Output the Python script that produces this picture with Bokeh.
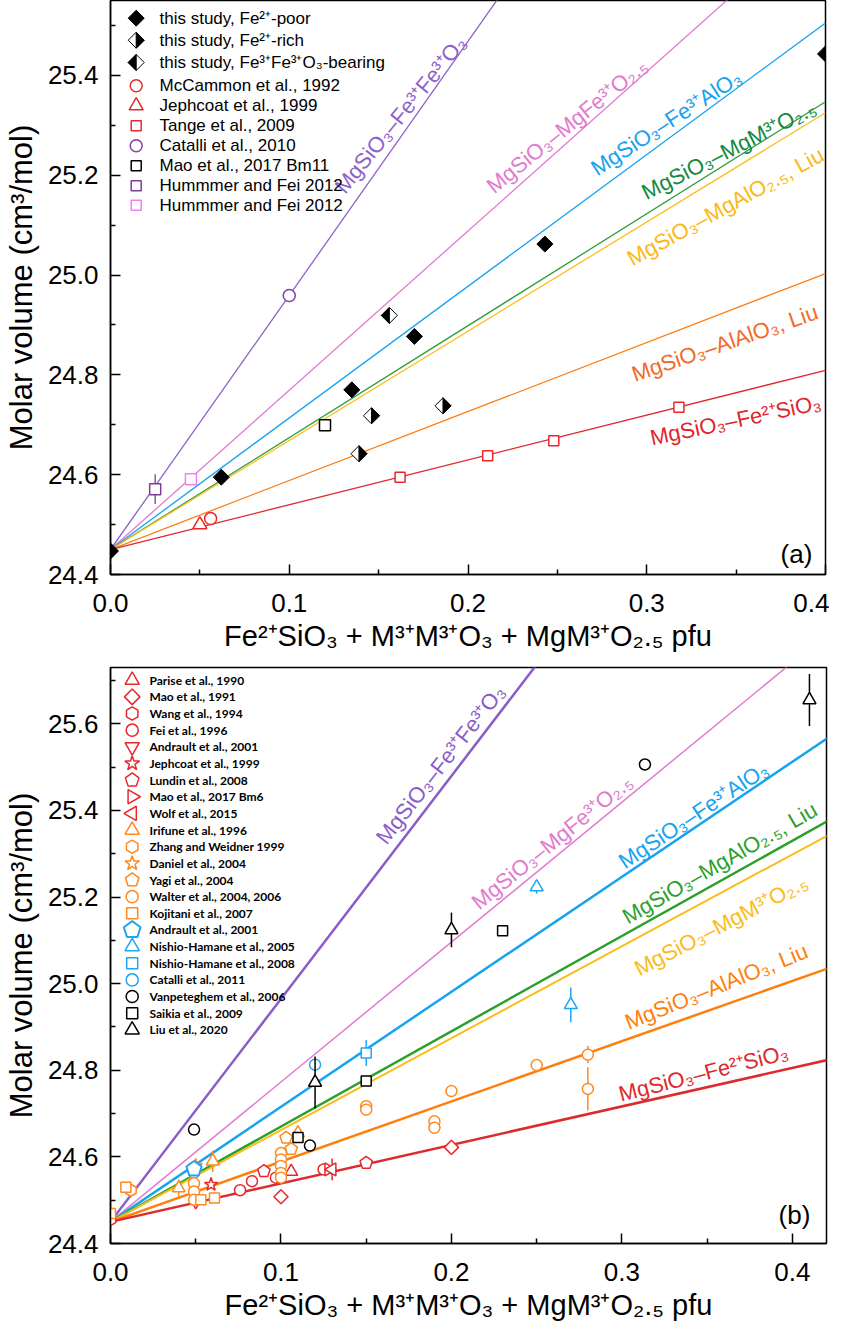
import math
from bokeh.plotting import figure
from bokeh.models import Range1d, FixedTicker, NumeralTickFormatter
from bokeh.layouts import column
from bokeh.embed import file_html
from bokeh.resources import INLINE
from bokeh.core.properties import value

# ---------------------------------------------------------------- panel (a) data
a_poor_x = [0.0, 0.062, 0.135, 0.170, 0.243, 0.400]
a_poor_y = [24.447, 24.595, 24.770, 24.877, 25.062, 25.443]
a_rich_x = [0.139, 0.146, 0.186]
a_rich_y = [24.642, 24.718, 24.738]
a_fe3_x = [0.156]
a_fe3_y = [24.919]
a_mccammon_x = [0.056]
a_mccammon_y = [24.512]
a_jephcoat_x = [0.050]
a_jephcoat_y = [24.500]
a_tange_x = [0.162, 0.211, 0.248, 0.318]
a_tange_y = [24.595, 24.638, 24.668, 24.735]
a_catalli_x = [0.100]
a_catalli_y = [24.959]
a_mao_x = [0.120]
a_mao_y = [24.699]
a_hum1_x = [0.025]
a_hum1_y = [24.571]
a_hum1_err = [0.03]
a_hum2_x = [0.045]
a_hum2_y = [24.591]

# trend lines (a): all start at (0, 24.45)
line_x0 = 0.0
line_y0 = 24.45
a_line_xend = [0.22, 0.35, 0.40, 0.40, 0.40, 0.40, 0.40]
a_line_yend = [25.570, 25.567, 25.505, 25.347, 25.325, 25.003, 24.809]
a_line_colors = ["#8f62c9", "#e27bce", "#15a2f0", "#2f9e3a", "#fdbf1e", "#ff8019", "#e0262d"]
a_text_colors = ["#8f62c9", "#e27bce", "#15a2f0", "#128a3e", "#fbb917", "#f26a2a", "#e0262d"]
a_labels = ["MgSiO₃–Fe³⁺Fe³⁺O₃", "MgSiO₃–MgFe³⁺O₂.₅", "MgSiO₃–Fe³⁺AlO₃",
            "MgSiO₃–MgM³⁺O₂.₅", "MgSiO₃–MgAlO₂.₅, Liu", "MgSiO₃–AlAlO₃, Liu",
            "MgSiO₃–Fe²⁺SiO₃"]
a_lab_x = [0.128, 0.212, 0.270, 0.298, 0.290, 0.292, 0.302]
a_lab_y = [25.170, 25.173, 25.210, 25.163, 25.030, 24.800, 24.673]
a_lab_ang = [51, 39, 33, 27, 29, 19, 12]

a_legend_labels = ["this study, Fe²⁺-poor", "this study, Fe²⁺-rich",
                   "this study, Fe³⁺Fe³⁺O₃-bearing", "McCammon et al., 1992",
                   "Jephcoat et al., 1999", "Tange et al., 2009", "Catalli et al., 2010",
                   "Mao et al., 2017 Bm11", "Hummmer and Fei 2012", "Hummmer and Fei 2012"]

# ---------------------------------------------------------------- panel (b) data
b_parise_x = [0.106]; b_parise_y = [24.566]
b_mao91_x = [0.100, 0.200]; b_mao91_y = [24.508, 24.622]
b_wang_x = [0.0]; b_wang_y = [24.455]
b_fei_x = [0.076, 0.083, 0.097, 0.125]; b_fei_y = [24.523, 24.544, 24.552, 24.571]
b_andr_r_x = [0.050]; b_andr_r_y = [24.497]
b_jeph_x = [0.059]; b_jeph_y = [24.536]
b_lundin_x = [0.090, 0.150]; b_lundin_y = [24.567, 24.586]
b_mao17_x = [0.128]; b_mao17_y = [24.571]
b_wolf_x = [0.130]; b_wolf_y = [24.571]; b_wolf_err = [0.025]
b_irifune_x = [0.040, 0.060, 0.110]; b_irifune_y = [24.528, 24.590, 24.655]
b_irifune_err = [0.02, 0.025, 0.017]
b_zhang_x = [0.012]; b_zhang_y = [24.523]
b_daniel_x = [0.050]; b_daniel_y = [24.580]
b_yagi_x = [0.103, 0.106]; b_yagi_y = [24.644, 24.618]
b_walter_x = [0.049, 0.049, 0.049, 0.049, 0.100, 0.100, 0.100, 0.100, 0.100,
              0.150, 0.150, 0.190, 0.190, 0.200, 0.250, 0.280, 0.280]
b_walter_y = [24.563, 24.539, 24.520, 24.501, 24.609, 24.594, 24.579, 24.563, 24.552,
              24.717, 24.709, 24.682, 24.667, 24.752, 24.812, 24.836, 24.757]
b_walter_err = [0, 0, 0, 0, 0, 0, 0, 0, 0, 0, 0, 0.01, 0, 0, 0, 0.02, 0.05]
b_kojitani_x = [0.0, 0.009, 0.053, 0.061]; b_kojitani_y = [24.469, 24.530, 24.501, 24.505]
b_andr_b_x = [0.049]; b_andr_b_y = [24.572]
b_nh05_x = [0.250, 0.270]; b_nh05_y = [25.223, 24.951]; b_nh05_err = [0.015, 0.04]
b_nh08_x = [0.150]; b_nh08_y = [24.840]; b_nh08_err = [0.03]
b_catalli_x = [0.120]; b_catalli_y = [24.813]
b_vanpet_x = [0.049, 0.117, 0.3135]; b_vanpet_y = [24.663, 24.626, 25.506]
b_saikia_x = [0.110, 0.150, 0.230]; b_saikia_y = [24.645, 24.775, 25.122]
b_liu_x = [0.120, 0.200, 0.410]; b_liu_y = [24.772, 25.124, 25.655]; b_liu_err = [0.06, 0.04, 0.06]

b_line_xend = [0.25, 0.40, 0.43, 0.43, 0.43, 0.43, 0.43]
b_line_yend = [25.737, 25.742, 25.592, 25.396, 25.362, 25.048, 24.832]
b_line_colors = ["#8a5cc8", "#e27bce", "#16a3f0", "#2ca02c", "#fbbc1b", "#ff7f0e", "#dc2a2e"]
b_line_widths = [2.5, 1.5, 2.5, 2.5, 2.0, 2.5, 2.5]
b_labels = ["MgSiO₃–Fe³⁺Fe³⁺O₃", "MgSiO₃–MgFe³⁺O₂.₅", "MgSiO₃–Fe³⁺AlO₃",
            "MgSiO₃–MgAlO₂.₅, Liu", "MgSiO₃–MgM³⁺O₂.₅", "MgSiO₃–AlAlO₃, Liu",
            "MgSiO₃–Fe²⁺SiO₃"]
b_lab_x = [0.1585, 0.2135, 0.2994, 0.3013, 0.3082, 0.3023, 0.2984]
b_lab_y = [25.329, 25.182, 25.278, 25.151, 25.032, 24.909, 24.744]
b_lab_ang = [52, 39, 33.5, 30, 27.7, 22, 14.3]

RED = "#e8282b"
ORG = "#ff8a1e"
BLU = "#1ea5f5"
BLK = "#000000"

b_series = [
    ("Parise et al., 1990", "triangle", RED, b_parise_x, b_parise_y, None, 0),
    ("Mao et al., 1991", "diamond", RED, b_mao91_x, b_mao91_y, None, 0),
    ("Wang et al., 1994", "hex", RED, b_wang_x, b_wang_y, None, 0),
    ("Fei et al., 1996", "circle", RED, b_fei_x, b_fei_y, None, 0),
    ("Andrault et al., 2001", "inverted_triangle", RED, b_andr_r_x, b_andr_r_y, None, 0),
    ("Jephcoat et al., 1999", "star", RED, b_jeph_x, b_jeph_y, None, 0),
    ("Lundin et al., 2008", "pentagon", RED, b_lundin_x, b_lundin_y, None, 0),
    ("Mao et al., 2017 Bm6", "triangle", RED, b_mao17_x, b_mao17_y, None, -math.pi / 2),
    ("Wolf et al., 2015", "triangle", RED, b_wolf_x, b_wolf_y, b_wolf_err, math.pi / 2),
    ("Irifune et al., 1996", "triangle", ORG, b_irifune_x, b_irifune_y, b_irifune_err, 0),
    ("Zhang and Weidner 1999", "hex", ORG, b_zhang_x, b_zhang_y, None, 0),
    ("Daniel et al.,  2004", "star", ORG, b_daniel_x, b_daniel_y, None, 0),
    ("Yagi et al., 2004", "pentagon", ORG, b_yagi_x, b_yagi_y, None, 0),
    ("Walter et al., 2004, 2006", "circle", ORG, b_walter_x, b_walter_y, b_walter_err, 0),
    ("Kojitani et al., 2007", "square", ORG, b_kojitani_x, b_kojitani_y, None, 0),
    ("Andrault  et al., 2001", "pentagon_big", BLU, b_andr_b_x, b_andr_b_y, None, 0),
    ("Nishio-Hamane et al., 2005", "triangle", BLU, b_nh05_x, b_nh05_y, b_nh05_err, 0),
    ("Nishio-Hamane et al., 2008", "square", BLU, b_nh08_x, b_nh08_y, b_nh08_err, 0),
    ("Catalli et al., 2011", "circle", BLU, b_catalli_x, b_catalli_y, None, 0),
    ("Vanpeteghem et al., 2006", "circle", BLK, b_vanpet_x, b_vanpet_y, None, 0),
    ("Saikia et al., 2009", "square", BLK, b_saikia_x, b_saikia_y, None, 0),
    ("Liu et al., 2020", "triangle", BLK, b_liu_x, b_liu_y, b_liu_err, 0),
]

# ---------------------------------------------------------------- layout constants
FW_A, FH_A = 715, 574
FW_B, FH_B = 716, 576
A_X = (0.0, 0.40)
A_Y = (24.4, 25.55)
B_X = (0.0, 0.42)
B_Y = (24.4, 25.73)
SX_A = FW_A / (A_X[1] - A_X[0]); SY_A = FH_A / (A_Y[1] - A_Y[0])
SX_B = FW_B / (B_X[1] - B_X[0]); SY_B = FH_B / (B_Y[1] - B_Y[0])

FONT = "Liberation Sans"


def polys(xs, ys, verts, sx, sy):
    XS, YS = [], []
    for x, y in zip(xs, ys):
        XS.append([x + vx / sx for vx, vy in verts])
        YS.append([y + vy / sy for vx, vy in verts])
    return XS, YS


def pentagon(r):
    return [(r * math.cos(math.radians(90 + 72 * k)), r * math.sin(math.radians(90 + 72 * k)))
            for k in range(5)]


def half_right(r):
    return [(0, r), (r, 0), (0, -r)]


def half_left(r):
    return [(0, r), (-r, 0), (0, -r)]


def style(p, xticks, xminor, yticks, yminor):
    p.xgrid.visible = False
    p.ygrid.visible = False
    p.outline_line_color = "black"
    p.outline_line_width = 1.5
    p.outline_line_alpha = 1.0
    p.background_fill_color = "white"
    p.border_fill_color = "white"
    p.xaxis.ticker = FixedTicker(ticks=xticks, minor_ticks=xminor)
    p.yaxis.ticker = FixedTicker(ticks=yticks, minor_ticks=yminor)
    p.xaxis.formatter = NumeralTickFormatter(format="0.0")
    p.yaxis.formatter = NumeralTickFormatter(format="0.0")
    for ax in (p.xaxis[0], p.yaxis[0]):
        ax.axis_line_width = 1.5
        ax.major_tick_line_width = 1.5
        ax.minor_tick_line_width = 1.5
        ax.major_tick_in = 10
        ax.major_tick_out = 0
        ax.minor_tick_in = 5
        ax.minor_tick_out = 0
        ax.major_label_text_font = FONT
        ax.major_label_text_font_size = "26px"
        ax.major_label_text_color = "black"
        ax.axis_label_text_font_style = "normal"
        ax.axis_label_text_color = "black"
        ax.axis_label_text_font = FONT
    p.yaxis[0].major_label_standoff = 12
    p.xaxis[0].major_label_standoff = 19
    p.xaxis[0].axis_label = "Fe²⁺SiO₃ + M³⁺M³⁺O₃ + MgM³⁺O₂.₅ pfu"
    p.xaxis[0].axis_label_text_font_size = "29px"
    p.xaxis[0].axis_label_standoff = 5
    p.yaxis[0].axis_label = "Molar volume (cm³/mol)"
    p.yaxis[0].axis_label_text_font_size = "31px"
    p.yaxis[0].axis_label_standoff = 6


# ================================================================ panel (a)
pa = figure(frame_width=FW_A, frame_height=FH_A, x_range=Range1d(*A_X), y_range=Range1d(*A_Y),
            output_backend="svg", toolbar_location=None,
            min_border_left=108, min_border_right=4, min_border_top=0, min_border_bottom=86)
pa.extra_x_ranges["px"] = Range1d(0, FW_A)
pa.extra_y_ranges["px"] = Range1d(0, FH_A)
style(pa, [0.0, 0.1, 0.2, 0.3, 0.4], [0.05, 0.15, 0.25, 0.35],
      [24.4, 24.6, 24.8, 25.0, 25.2, 25.4], [24.5, 24.7, 24.9, 25.1, 25.3, 25.5])

for xe, ye, c in zip(a_line_xend, a_line_yend, a_line_colors):
    pa.line(x=[line_x0, xe], y=[line_y0, ye], line_color=c, line_width=1.3)

pa.text(x=a_lab_x, y=a_lab_y, text=a_labels, angle=[math.radians(a) for a in a_lab_ang],
        text_color=a_text_colors, text_font=value(FONT), text_font_size="22px",
        text_align="left", text_baseline="alphabetic")

# literature
pa.segment(x0=a_hum1_x, y0=[y - e for y, e in zip(a_hum1_y, a_hum1_err)],
           x1=a_hum1_x, y1=[y + e for y, e in zip(a_hum1_y, a_hum1_err)],
           line_color="#7d3c98", line_width=1.3)
pa.scatter(x=a_hum1_x, y=a_hum1_y, marker="square", size=11, line_color="#7d3c98",
           fill_color="white", line_width=1.5)
pa.scatter(x=a_hum2_x, y=a_hum2_y, marker="square", size=11, line_color="#f77cf7",
           fill_color="white", line_width=1.5)
pa.scatter(x=a_mccammon_x, y=a_mccammon_y, marker="circle", size=12, line_color=RED,
           fill_color="white", line_width=1.5)
pa.scatter(x=a_jephcoat_x, y=a_jephcoat_y, marker="triangle", size=14, line_color=RED,
           fill_color="white", line_width=1.5)
pa.scatter(x=a_tange_x, y=a_tange_y, marker="square", size=10, line_color=RED,
           fill_color="white", line_width=1.5)
pa.scatter(x=a_catalli_x, y=a_catalli_y, marker="circle", size=12, line_color="#8040a8",
           fill_color="white", line_width=1.5)
pa.scatter(x=a_mao_x, y=a_mao_y, marker="square", size=11, line_color="black",
           fill_color="white", line_width=1.5)

# this study
DR = 8.0
pa.scatter(x=a_poor_x, y=a_poor_y, marker="square", angle=math.pi / 4, size=DR * math.sqrt(2),
           fill_color="black", line_color="black", line_width=1)
pa.scatter(x=a_rich_x + a_fe3_x, y=a_rich_y + a_fe3_y, marker="square", angle=math.pi / 4,
           size=DR * math.sqrt(2), fill_color="white", line_color="black", line_width=1)
xs, ys = polys(a_rich_x, a_rich_y, half_right(DR), SX_A, SY_A)
pa.patches(xs=xs, ys=ys, fill_color="black", line_color="black", line_width=1)
xs, ys = polys(a_fe3_x, a_fe3_y, half_left(DR), SX_A, SY_A)
pa.patches(xs=xs, ys=ys, fill_color="black", line_color="black", line_width=1)

# legend (a)
leg_a_d = [17.7, 39.7, 62.0, 85.3, 105.3, 125.3, 145.3, 165.3, 185.3, 204.7]
leg_a_y = [FH_A - d for d in leg_a_d]
LMX = 25.7
pa.text(x=[49] * len(a_legend_labels), y=leg_a_y, text=a_legend_labels,
        x_range_name="px", y_range_name="px", text_font=value(FONT), text_font_size="17px",
        text_color="black", text_align="left", text_baseline="middle")
pa.scatter(x=[LMX] * 3, y=leg_a_y[:3], marker="square", angle=math.pi / 4, size=DR * math.sqrt(2),
           fill_color=["black", "white", "white"], line_color="black", line_width=1,
           x_range_name="px", y_range_name="px")
xs, ys = polys([LMX], [leg_a_y[1]], half_right(DR), 1, 1)
pa.patches(xs=xs, ys=ys, fill_color="black", line_color="black", x_range_name="px", y_range_name="px")
xs, ys = polys([LMX], [leg_a_y[2]], half_left(DR), 1, 1)
pa.patches(xs=xs, ys=ys, fill_color="black", line_color="black", x_range_name="px", y_range_name="px")
pa.scatter(x=[LMX] * 7, y=leg_a_y[3:],
           marker=["circle", "triangle", "square", "circle", "square", "square", "square"],
           size=[12, 14, 10, 12, 10, 10, 10],
           line_color=[RED, RED, RED, "#8040a8", "black", "#7d3c98", "#f77cf7"],
           fill_color="white", line_width=1.5, x_range_name="px", y_range_name="px")
pa.text(x=[686], y=[21], text=["(a)"], x_range_name="px", y_range_name="px",
        text_font=value(FONT), text_font_size="26px", text_align="center", text_baseline="middle")

# ================================================================ panel (b)
pb = figure(frame_width=FW_B, frame_height=FH_B, x_range=Range1d(*B_X), y_range=Range1d(*B_Y),
            output_backend="svg", toolbar_location=None,
            min_border_left=108, min_border_right=4, min_border_top=7, min_border_bottom=76)
pb.extra_x_ranges["px"] = Range1d(0, FW_B)
pb.extra_y_ranges["px"] = Range1d(0, FH_B)
style(pb, [0.0, 0.1, 0.2, 0.3, 0.4], [0.05, 0.15, 0.25, 0.35],
      [24.4, 24.6, 24.8, 25.0, 25.2, 25.4, 25.6], [24.5, 24.7, 24.9, 25.1, 25.3, 25.5, 25.7])

for xe, ye, c, w in zip(b_line_xend, b_line_yend, b_line_colors, b_line_widths):
    pb.line(x=[line_x0, xe], y=[line_y0, ye], line_color=c, line_width=w)

pb.text(x=b_lab_x, y=b_lab_y, text=b_labels, angle=[math.radians(a) for a in b_lab_ang],
        text_color=b_line_colors, text_font=value(FONT), text_font_size="22px",
        text_align="left", text_baseline="alphabetic")


def draw_marker(p, xs, ys, marker, color, angle, sx, sy, size_scale=1.0, rng=None):
    kw = {}
    if rng:
        kw = dict(x_range_name=rng, y_range_name=rng)
    sizes = {"triangle": 13, "inverted_triangle": 13, "circle": 11, "square": 10,
             "diamond": 10, "hex": 12, "star": 14}
    if marker in ("pentagon", "pentagon_big"):
        r = (6.5 if marker == "pentagon" else 8.0) * size_scale
        X, Y = polys(xs, ys, pentagon(r), sx, sy)
        p.patches(xs=X, ys=Y, fill_color="white", line_color=color,
                  line_width=2.0 if marker == "pentagon_big" else 1.5, **kw)
    elif marker == "diamond":
        p.scatter(x=xs, y=ys, marker="square", angle=math.pi / 4, size=sizes["diamond"] * size_scale,
                  fill_color="white", line_color=color, line_width=1.5, **kw)
    elif marker == "hex":
        p.scatter(x=xs, y=ys, marker="hex", angle=math.pi / 6, size=sizes["hex"] * size_scale,
                  fill_color="white", line_color=color, line_width=1.5, **kw)
    else:
        p.scatter(x=xs, y=ys, marker=marker, angle=angle, size=sizes[marker] * size_scale,
                  fill_color="white", line_color=color, line_width=1.5, **kw)


for name, marker, color, xs, ys, err, ang in b_series:
    if err:
        ex = [x for x, e in zip(xs, err) if e > 0]
        ey0 = [y - e for y, e in zip(ys, err) if e > 0]
        ey1 = [y + e for y, e in zip(ys, err) if e > 0]
        pb.segment(x0=ex, y0=ey0, x1=ex, y1=ey1, line_color=color, line_width=1.5)
    draw_marker(pb, xs, ys, marker, color, ang, SX_B, SY_B)

# legend (b)
leg_b_y = [FH_B - (12.7 + 16.65 * i) for i in range(len(b_series))]
pb.text(x=[39] * len(b_series), y=leg_b_y, text=[s[0] for s in b_series],
        x_range_name="px", y_range_name="px", text_font=value("Lato"), text_font_style="bold",
        text_font_size="12px", text_color="black", text_align="left", text_baseline="middle")
for (name, marker, color, xs, ys, err, ang), ly in zip(b_series, leg_b_y):
    draw_marker(pb, [21.7], [ly], marker, color, ang, 1, 1, size_scale=1.1, rng="px")

pb.text(x=[684], y=[29], text=["(b)"], x_range_name="px", y_range_name="px",
        text_font=value(FONT), text_font_size="26px", text_align="center", text_baseline="middle")

layout = column(pa, pb)
open("out.html", "w").write(file_html(layout, INLINE))
